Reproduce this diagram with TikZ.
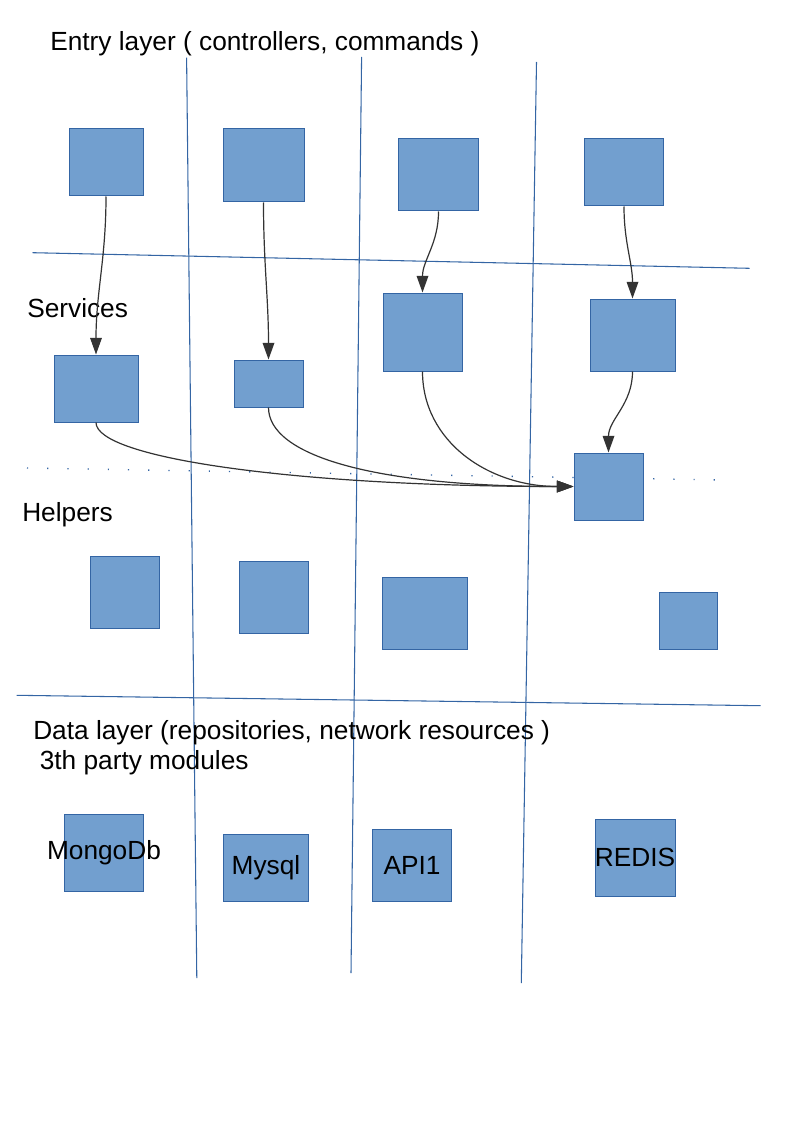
\documentclass[tikz,border=0pt]{standalone}
\usepackage{fontspec}
\setmainfont{Liberation Sans}
\usetikzlibrary{arrows.meta}

\definecolor{modfill}{HTML}{729FCF}
\definecolor{modline}{HTML}{3465A4}
\definecolor{flowgray}{HTML}{333333}

\begin{document}
\begin{tikzpicture}[x=0.75pt, y=-0.75pt, font=\fontsize{19.7}{22.5}\selectfont,
    size/.style 2 args={minimum width=#1*0.75pt, minimum height=#2*0.75pt}]
    \tikzstyle{module}=[rectangle, draw=modline, fill=modfill, line width=0.75pt, inner sep=0pt]
    \tikzstyle{divider}=[draw=modline, line width=0.8pt]
    \tikzstyle{dotline}=[draw=modline, line width=1pt, dash pattern=on 0.9pt off 14.25pt]
    \tikzstyle{flow}=[draw=flowgray, line width=0.9pt, -{Triangle[length=12.5pt, width=8.75pt]}]
    \tikzstyle{annot}=[anchor=west, inner sep=0pt]

    \useasboundingbox (0,0) rectangle (794,1123);

    % End points of the column and layer dividers
    \coordinate (top-1) at (186.6, 57.7);
    \coordinate (bot-1) at (196.8, 978);
    \coordinate (top-2) at (361.6, 57);
    \coordinate (bot-2) at (351, 973);
    \coordinate (top-3) at (536.5, 62);
    \coordinate (bot-3) at (521.3, 983);
    \coordinate (row-1a) at (32.5, 252.7);
    \coordinate (row-1b) at (749.5, 268.3);
    \coordinate (row-2a) at (16.7, 695.3);
    \coordinate (row-2b) at (760.6, 705.7);
    \coordinate (dot-a) at (27, 468);
    \coordinate (dot-b) at (722, 480);

    \foreach \i in {1,2,3}
        \draw[divider] (top-\i) -- (bot-\i);
    \draw[divider] (row-1a) -- (row-1b);
    \draw[divider] (row-2a) -- (row-2b);
    \draw[dotline] (dot-a) -- (dot-b);

    % Layer titles
    \node[annot] (entry) at (50, 44) {Entry layer ( controllers, commands )};
    \node[annot] (services) at (27, 308) {Services};
    \node[annot] (helpers) at (22, 515) {Helpers};
    \node[annot] (data) at (33, 732.5) {Data layer (repositories, network resources )};
    \node[annot] (thirdparty) at (39.5, 762.5) {3th party modules};

    % Entry layer
    \node[module, size={74}{67}] (E-1) at (106, 162.5) {};
    \node[module, size={81}{73}] (E-2) at (263.5, 165.5) {};
    \node[module, size={80}{72}] (E-3) at (438.5, 175) {};
    \node[module, size={79}{67}] (E-4) at (624, 172.5) {};

    % Services
    \node[module, size={84}{67}] (S-1) at (96, 388.5) {};
    \node[module, size={69}{47}] (S-2) at (268.5, 383.5) {};
    \node[module, size={79}{78}] (S-3) at (422.5, 332) {};
    \node[module, size={85}{72}] (S-4) at (632.5, 335) {};

    % Helpers
    \node[module, size={69}{67}] (H-0) at (608.5, 486.5) {};
    \node[module, size={69}{72}] (H-1) at (125, 592) {};
    \node[module, size={69}{72}] (H-2) at (274, 597) {};
    \node[module, size={85}{72}] (H-3) at (425, 613) {};
    \node[module, size={58}{57}] (H-4) at (688, 621) {};

    % Data layer
    \node[module, size={79}{77}, label=center:MongoDb] (D-1) at (104, 852.5) {};
    \node[module, size={85}{67}, label=center:Mysql] (D-2) at (266, 867.5) {};
    \node[module, size={79}{72}, label=center:API1] (D-3) at (412, 865) {};
    \node[module, size={80}{77}, label=center:REDIS] (D-4) at (635, 857.5) {};

    % Every entry point calls the service below it
    \foreach \i in {1,...,4}
        \draw[flow] (E-\i.south) to[out=-90, in=90] (S-\i.north);

    % The services share one helper
    \draw[flow] (S-4.south) to[out=-90, in=90] (H-0.north);
    \draw[flow] (S-1.south) .. controls +(0,36) and +(-275,0) .. (H-0.west);
    \draw[flow] (S-2.south) .. controls +(0,48) and +(-200,0) .. (H-0.west);
    \draw[flow] (S-3.south) .. controls +(0,70) and +(-85,0) .. (H-0.west);

\end{tikzpicture}
\end{document}
